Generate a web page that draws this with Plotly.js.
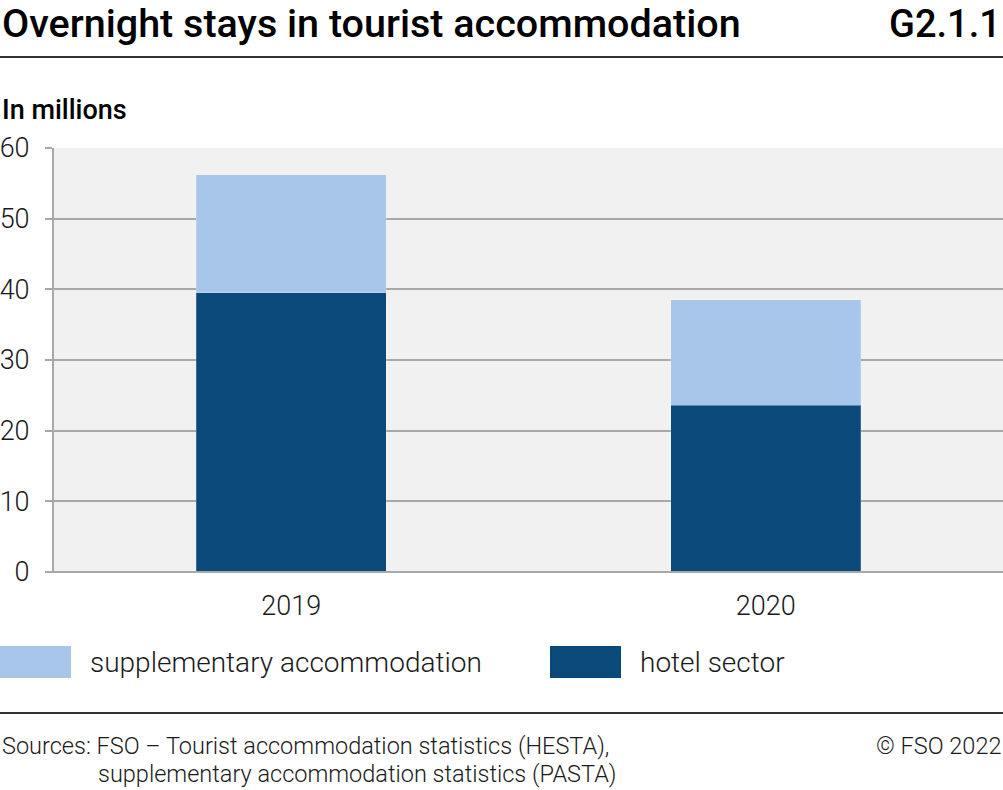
<!DOCTYPE html>
<html>
<head>
<meta charset="utf-8">
<script src="https://cdn.plot.ly/plotly-3.0.1.min.js"></script>
<style>html,body{margin:0;padding:0;background:#fff;}#chart{width:1003px;height:790px;}</style>
</head>
<body>
<div id="chart"></div>
<script>
const years = ['2019', '2020'];
const hotelSector = [39.5, 23.6];
const supplementary = [16.7, 14.9];
const seriesNames = ['supplementary accommodation', 'hotel sector'];
const seriesColors = ['#a8c6ea', '#0b497a'];
const yTicks = [0, 10, 20, 30, 40, 50, 60];

const FONT = 'Roboto, "Liberation Sans", sans-serif';

const traces = [
  {type: 'bar', x: years, y: hotelSector, name: seriesNames[1], marker: {color: seriesColors[1], line: {width: 1, color: 'rgba(255,255,255,0.2)'}}, width: 0.4, showlegend: false},
  {type: 'bar', x: years, y: supplementary, name: seriesNames[0], marker: {color: seriesColors[0], line: {width: 1, color: 'rgba(255,255,255,0.2)'}}, width: 0.4, showlegend: false}
];

const H = 790, W = 1003;
const mT = 148, mB = 218, mL = 54, mR = 0;
const ph = H - mT - mB;
function py(pix) { return (H - mB - pix) / ph; }
const pw = W - mL - mR;
function px(pix) { return (pix - mL) / pw; }

const layout = {
  width: W, height: H,
  margin: {l: mL, r: mR, t: mT, b: mB, pad: 0},
  paper_bgcolor: '#ffffff',
  plot_bgcolor: '#f1f1f1',
  barmode: 'stack',
  showlegend: false,
  font: {family: FONT, color: '#1a1a1a'},
  xaxis: {
    type: 'category', showgrid: false, zeroline: false,
    showline: false, ticks: '',
    tickfont: {family: FONT, size: 27, color: '#1a1a1a', weight: 300},
    ticklabelstandoff: 15, fixedrange: true
  },
  yaxis: {
    range: [0, 60], tickvals: yTicks, ticktext: yTicks.map(String),
    showgrid: true, gridcolor: '#a8a8a8', gridwidth: 2,
    zeroline: false, showline: true, linecolor: '#a8a8a8', linewidth: 2,
    ticks: 'outside', ticklen: 7, tickwidth: 2, tickcolor: '#a8a8a8',
    tickfont: {family: FONT, size: 27, color: '#1a1a1a', weight: 300},
    ticklabelstandoff: 10, fixedrange: true
  },
  shapes: [
    {type: 'line', xref: 'paper', yref: 'paper', x0: px(0), x1: px(W), y0: py(57), y1: py(57), line: {color: '#333333', width: 2}},
    {type: 'line', xref: 'paper', yref: 'paper', x0: px(0), x1: px(W), y0: py(713), y1: py(713), line: {color: '#333333', width: 2}},
    {type: 'line', xref: 'paper', yref: 'paper', x0: px(mL - 7), x1: px(W), y0: py(572), y1: py(572), line: {color: '#a8a8a8', width: 2}},
    {type: 'rect', xref: 'paper', yref: 'paper', x0: px(0), x1: px(71), y0: py(678), y1: py(646), fillcolor: seriesColors[0], line: {width: 0}},
    {type: 'rect', xref: 'paper', yref: 'paper', x0: px(550), x1: px(621), y0: py(678), y1: py(646), fillcolor: seriesColors[1], line: {width: 0}}
  ],
  annotations: [
    {xref: 'paper', yref: 'paper', x: px(0), y: py(24), xanchor: 'left', yanchor: 'middle', showarrow: false,
     text: 'Overnight stays in tourist accommodation', font: {family: FONT, size: 39.5, color: '#000', weight: 500}},
    {xref: 'paper', yref: 'paper', x: px(W), y: py(24), xanchor: 'right', yanchor: 'middle', showarrow: false,
     text: 'G2.1.1', font: {family: FONT, size: 38, color: '#000', weight: 500}},
    {xref: 'paper', yref: 'paper', x: px(0), y: py(110), xanchor: 'left', yanchor: 'middle', showarrow: false,
     text: 'In millions', font: {family: FONT, size: 27, color: '#000', weight: 500}},
    {xref: 'paper', yref: 'paper', x: px(88), y: py(662), xanchor: 'left', yanchor: 'middle', showarrow: false,
     text: seriesNames[0], font: {family: FONT, size: 28, color: '#1a1a1a', weight: 300}},
    {xref: 'paper', yref: 'paper', x: px(638), y: py(662), xanchor: 'left', yanchor: 'middle', showarrow: false,
     text: seriesNames[1], font: {family: FONT, size: 28, color: '#1a1a1a', weight: 300}},
    {xref: 'paper', yref: 'paper', x: px(0), y: py(746), xanchor: 'left', yanchor: 'middle', showarrow: false,
     text: 'Sources: FSO – Tourist accommodation statistics (HESTA),', font: {family: FONT, size: 23.5, color: '#1a1a1a', weight: 300}},
    {xref: 'paper', yref: 'paper', x: px(96), y: py(774), xanchor: 'left', yanchor: 'middle', showarrow: false,
     text: 'supplementary accommodation statistics (PASTA)', font: {family: FONT, size: 23.5, color: '#1a1a1a', weight: 300}},
    {xref: 'paper', yref: 'paper', x: px(W), y: py(746), xanchor: 'right', yanchor: 'middle', showarrow: false,
     text: '© FSO 2022', font: {family: FONT, size: 23.5, color: '#1a1a1a', weight: 300}}
  ]
};

Plotly.newPlot('chart', traces, layout, {displayModeBar: false, staticPlot: true});
</script>
</body>
</html>
